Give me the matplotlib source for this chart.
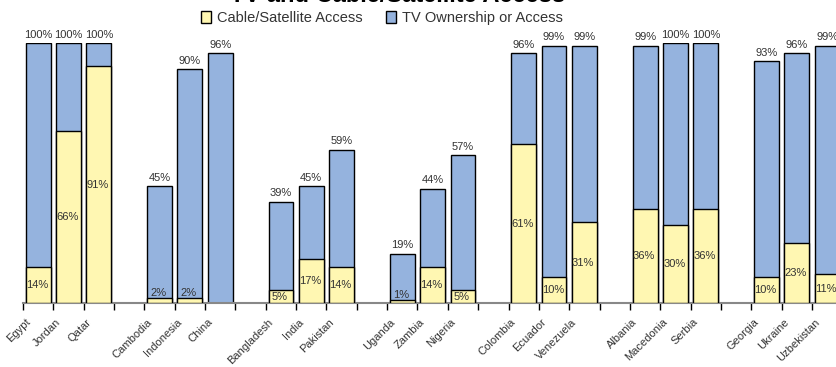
import numpy as np
import matplotlib.pyplot as plt
import matplotlib.transforms as mtransforms
from matplotlib.patches import Patch

plt.rcParams['font.family'] = ['Liberation Sans', 'DejaVu Sans']

# empty strings are the gaps between regional groups
countries = ['Egypt', 'Jordan', 'Qatar', '',
             'Cambodia', 'Indonesia', 'China', '',
             'Bangladesh', 'India', 'Pakistan', '',
             'Uganda', 'Zambia', 'Nigeria', '',
             'Colombia', 'Ecuador', 'Venezuela', '',
             'Albania', 'Macedonia', 'Serbia', '',
             'Georgia', 'Ukraine', 'Uzbekistan']
tv = [100, 100, 100, None,
      45, 90, 96, None,
      39, 45, 59, None,
      19, 44, 57, None,
      96, 99, 99, None,
      99, 100, 100, None,
      93, 96, 99]
cable = [14, 66, 91, None,
         2, 2, None, None,
         5, 17, 14, None,
         1, 14, 5, None,
         61, 10, 31, None,
         36, 30, 36, None,
         10, 23, 11]

yellow = '#FFF7B2'
blue = '#95B3DE'
txt = '#333333'

fig = plt.figure(figsize=(8.36, 3.67), dpi=100)
n = len(countries)
step = (812 - 23) / 26.0
ax = fig.add_axes([23 / 836, 64 / 367, n * step / 836, 260 / 367])

x = np.arange(n)
w = 0.82
for i in range(n):
    if tv[i] is not None:
        ax.bar(x[i], tv[i], width=w, color=blue, edgecolor='black', linewidth=1, zorder=2)
        ax.text(x[i], tv[i] + 1.2, f'{tv[i]}%', ha='center', va='bottom',
                fontsize=8, color=txt, clip_on=False)
    if cable[i] is not None:
        ax.bar(x[i], cable[i], width=w, color=yellow, edgecolor='black', linewidth=1, zorder=3)
        ypos = cable[i] / 2 if cable[i] >= 5 else cable[i] + 2
        ax.text(x[i] - 0.04, ypos, f'{cable[i]}%', ha='center', va='center',
                fontsize=8, color=txt, zorder=4)

ax.set_xlim(-0.5, n - 0.5)
ax.set_ylim(0, 100)
ax.set_yticks([])
for s in ['top', 'right', 'left']:
    ax.spines[s].set_visible(False)
ax.spines['bottom'].set_color('#888888')
ax.spines['bottom'].set_linewidth(1.5)

ax.set_xticks(np.arange(-0.5, n, 1.0), minor=True)
ax.tick_params(axis='x', which='minor', length=5, width=1, color='black', direction='out')
ax.set_xticks(x)
ax.set_xticklabels(countries, rotation=45, ha='right', rotation_mode='anchor',
                   fontsize=8, color=txt)
ax.tick_params(axis='x', which='major', length=0, pad=10)
shift = mtransforms.ScaledTranslation(-0.13, 0, fig.dpi_scale_trans)
for lab in ax.get_xticklabels():
    lab.set_transform(lab.get_transform() + shift)

fig.text(398 / 836, 1 - 2 / 367, 'TV and Cable/Satellite Access', ha='center', va='baseline',
         fontsize=17, fontweight='bold', color='black')

handles = [Patch(facecolor=yellow, edgecolor='black', label='Cable/Satellite Access'),
           Patch(facecolor=blue, edgecolor='black', label='TV Ownership or Access')]
fig.legend(handles=handles, loc='center', bbox_to_anchor=(382 / 836, 1 - 18 / 367), ncol=2,
           frameon=False, fontsize=10.5, handlelength=0.7, handleheight=0.9,
           handletextpad=0.4, columnspacing=1.6, labelcolor=txt)

fig.savefig('out.png', dpi=100)
